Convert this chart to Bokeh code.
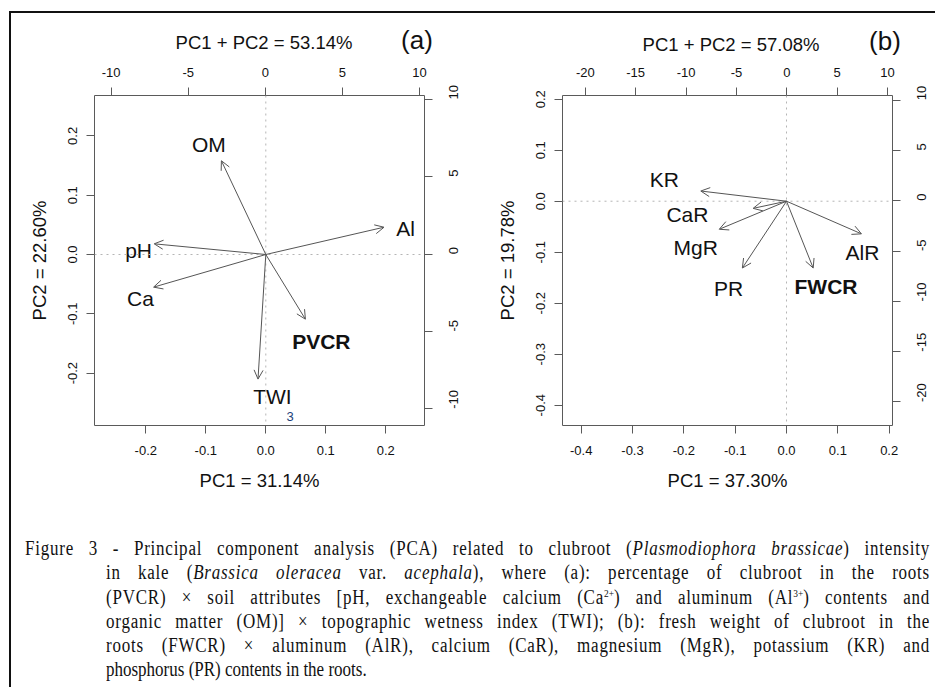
import math
from bokeh.plotting import figure
from bokeh.models import (Range1d, LinearAxis, FixedTicker, NumeralTickFormatter, Arrow,
                          OpenHead, ColumnDataSource, Label, Span, Div)
from bokeh.layouts import column, row
from bokeh.core.properties import value
from bokeh.embed import file_html
from bokeh.resources import INLINE

# ---------------- data: panel (a) ----------------
a_title = "PC1 + PC2 = 53.14%"
a_tag = "(a)"
a_xlabel = "PC1 = 31.14%"
a_ylabel = "PC2 = 22.60%"
a_vars = ["OM", "Al", "pH", "Ca", "PVCR", "TWI"]
a_pc1 = [-0.074, 0.197, -0.186, -0.187, 0.066, -0.013]
a_pc2 = [0.158, 0.046, 0.018, -0.055, -0.109, -0.210]
a_lab_x = [-0.095, 0.233, -0.212, -0.209, 0.0925, 0.011]
a_lab_y = [0.1855, 0.044, 0.007, -0.0735, -0.1466, -0.240]
a_lab_style = ["normal", "normal", "normal", "normal", "bold", "normal"]
a_ticks = [-0.2, -0.1, 0.0, 0.1, 0.2]
a_score_ticks = [-10, -5, 0, 5, 10]
a_extra_text = "3"
a_extra_xy = (0.0407, -0.2725)

# ---------------- data: panel (b) ----------------
b_title = "PC1 + PC2 = 57.08%"
b_tag = "(b)"
b_xlabel = "PC1 = 37.30%"
b_ylabel = "PC2 = 19.78%"
b_vars = ["KR", "CaR", "MgR", "PR", "FWCR", "AlR"]
b_pc1 = [-0.167, -0.065, -0.131, -0.086, 0.052, 0.146]
b_pc2 = [0.020, -0.014, -0.055, -0.131, -0.131, -0.064]
b_lab_x = [-0.238, -0.193, -0.177, -0.113, 0.077, 0.148]
b_lab_y = [0.043, -0.026, -0.090, -0.172, -0.167, -0.101]
b_lab_style = ["normal", "normal", "normal", "normal", "bold", "normal"]
b_ticks = [-0.4, -0.3, -0.2, -0.1, 0.0, 0.1, 0.2]
b_score_ticks = [-20, -15, -10, -5, 0, 5, 10]

caption_lines = [
    "Figure 3 - Principal component analysis (PCA) related to clubroot (<i>Plasmodiophora brassicae</i>) intensity",
    "in kale (<i>Brassica oleracea</i> var. <i>acephala</i>), where (a): percentage of clubroot in the roots",
    "(PVCR) &times; soil attributes [pH, exchangeable calcium (Ca<sup>2+</sup>) and aluminum (Al<sup>3+</sup>) contents and",
    "organic matter (OM)] &times; topographic wetness index (TWI); (b): fresh weight of clubroot in the",
    "roots (FWCR) &times; aluminum (AlR), calcium (CaR), magnesium (MgR), potassium (KR) and",
    "phosphorus (PR) contents in the roots.",
]

FONT = "Liberation Sans"
AX_COL = "#5a5a5a"


def style_axis(ax, standoff):
    ax.axis_line_color = None
    ax.major_tick_line_color = AX_COL
    ax.major_tick_out = 8
    ax.major_tick_in = 0
    ax.minor_tick_line_color = None
    ax.major_label_text_font = FONT
    ax.major_label_text_font_size = "13px"
    ax.major_label_text_color = "#111111"
    ax.major_label_standoff = standoff
    ax.axis_label_text_font = FONT
    ax.axis_label_text_font_size = "18.5px"
    ax.axis_label_text_font_style = "normal"
    ax.axis_label_text_color = "#111111"


def make_panel(width, ml, mr, xr, yr, txr, ryr, ticks, sticks, xlabel, ylabel,
               names, pc1, pc2, lx, ly, lstyle):
    p = figure(width=width, height=450, x_range=Range1d(*xr), y_range=Range1d(*yr),
               x_axis_type=None, y_axis_type=None, output_backend="svg",
               toolbar_location=None, min_border_left=ml, min_border_right=mr,
               min_border_top=35, min_border_bottom=85,
               outline_line_color=AX_COL, outline_line_width=1,
               background_fill_color="white", border_fill_color="white")
    p.extra_x_ranges = {"top": Range1d(*txr)}
    p.extra_y_ranges = {"right": Range1d(*ryr)}

    bottom = LinearAxis(ticker=FixedTicker(ticks=ticks),
                        formatter=NumeralTickFormatter(format="0.0"), axis_label=xlabel)
    style_axis(bottom, 12)
    bottom.axis_label_standoff = 12
    p.add_layout(bottom, "below")

    left = LinearAxis(ticker=FixedTicker(ticks=ticks),
                      formatter=NumeralTickFormatter(format="0.0"), axis_label=ylabel,
                      major_label_orientation="vertical")
    style_axis(left, 9)
    left.axis_label_standoff = 16
    p.add_layout(left, "left")

    top = LinearAxis(x_range_name="top", ticker=FixedTicker(ticks=sticks),
                     formatter=NumeralTickFormatter(format="0"))
    style_axis(top, 11)
    p.add_layout(top, "above")

    right = LinearAxis(y_range_name="right", ticker=FixedTicker(ticks=sticks),
                       formatter=NumeralTickFormatter(format="0"),
                       major_label_orientation=math.pi / 2)
    style_axis(right, 21)
    p.add_layout(right, "right")

    p.add_layout(Span(location=0, dimension="width", line_color="#b5b5b5",
                      line_dash="dotted", line_width=1))
    p.add_layout(Span(location=0, dimension="height", line_color="#b5b5b5",
                      line_dash="dotted", line_width=1))

    src = ColumnDataSource(dict(x0=[0.0] * len(pc1), y0=[0.0] * len(pc2), x1=pc1, y1=pc2))
    p.add_layout(Arrow(end=OpenHead(size=9, line_color="#555555", line_width=1),
                       x_start="x0", y_start="y0", x_end="x1", y_end="y1", source=src,
                       line_color="#555555", line_width=1))

    lsrc = ColumnDataSource(dict(x=lx, y=ly, name=names, style=lstyle))
    p.text(x="x", y="y", text="name", source=lsrc, text_font=value(FONT),
           text_font_size="21px", text_font_style="style", text_color="#111111",
           text_align="center", text_baseline="middle")
    return p


def heading(width, title, tx, ty, tag, gx, gy):
    html = (
        f'<div style="position:relative;width:{width}px;height:47px;'
        f'font-family:\'Liberation Sans\',Arial,sans-serif;color:#111;">'
        f'<span style="position:absolute;left:{tx}px;top:{ty}px;transform:translate(-50%,-50%);'
        f'font-size:18.5px;white-space:nowrap;">{title}</span>'
        f'<span style="position:absolute;left:{gx}px;top:{gy}px;transform:translate(-50%,-50%);'
        f'font-size:26px;white-space:nowrap;">{tag}</span></div>'
    )
    return Div(text=html, width=width, height=47, margin=0)


p1 = make_panel(459, 83, 46, (-0.2855, 0.2645), (-0.2882, 0.268), (-11.08, 10.32),
                (-11.08, 10.26), a_ticks, a_score_ticks, a_xlabel, a_ylabel,
                a_vars, a_pc1, a_pc2, a_lab_x, a_lab_y, a_lab_style)
p1.add_layout(Label(x=a_extra_xy[0], y=a_extra_xy[1], text=a_extra_text, text_font=FONT,
                    text_font_size="13px", text_color="#1c3f7a",
                    text_align="center", text_baseline="middle"))

p2 = make_panel(465, 92, 43, (-0.4364, 0.2065), (-0.4398, 0.2073), (-22.26, 10.49),
                (-22.34, 10.47), b_ticks, b_score_ticks, b_xlabel, b_ylabel,
                b_vars, b_pc1, b_pc2, b_lab_x, b_lab_y, b_lab_style)

head_a = heading(459, a_title, 253, 30, a_tag, 406, 28)
head_b = heading(465, b_title, 261, 32, b_tag, 415, 29)

# caption: condensed serif lines, justified
SX = 0.85
centers = [38, 62.5, 87, 111, 135, 159.5]
spans = []
for i, line in enumerate(caption_lines):
    left = 14 if i == 0 else 95
    target = 919 - left
    is_last = i == len(caption_lines) - 1
    last = "left" if is_last else "justify"
    ls = "0px" if is_last else "0.9px"
    spans.append(
        f'<div style="position:absolute;left:{left}px;top:{centers[i] - 12.15:.2f}px;'
        f'width:{target / SX:.1f}px;height:24.3px;line-height:24.3px;white-space:nowrap;'
        f'letter-spacing:{ls};text-align:justify;text-align-last:{last};'
        f'transform:scaleX({SX});transform-origin:0 0;">{line}</div>'
    )
caption_html = (
    '<div style="position:relative;width:924px;height:177px;'
    'font-family:\'Liberation Serif\',\'Times New Roman\',serif;font-size:20px;color:#111;">'
    '<style>sup{font-size:11px;line-height:0;vertical-align:7px;letter-spacing:0;}</style>'
    + "".join(spans) + "</div>"
)
caption = Div(text=caption_html, width=924, height=177, margin=0)

hline = Div(text="", width=924, height=2, margin=0, styles={"background-color": "#111111"})
vline = Div(text="", width=2, height=676, margin=0, styles={"background-color": "#111111"})
top_pad = Div(text="", width=10, height=11, margin=0)
left_pad = Div(text="", width=9, height=10, margin=0)

layout = column(top_pad,
                row(left_pad, vline,
                    column(hline, row(head_a, head_b), row(p1, p2), caption)))

with open("out.html", "w") as f:
    f.write(file_html(layout, INLINE))
